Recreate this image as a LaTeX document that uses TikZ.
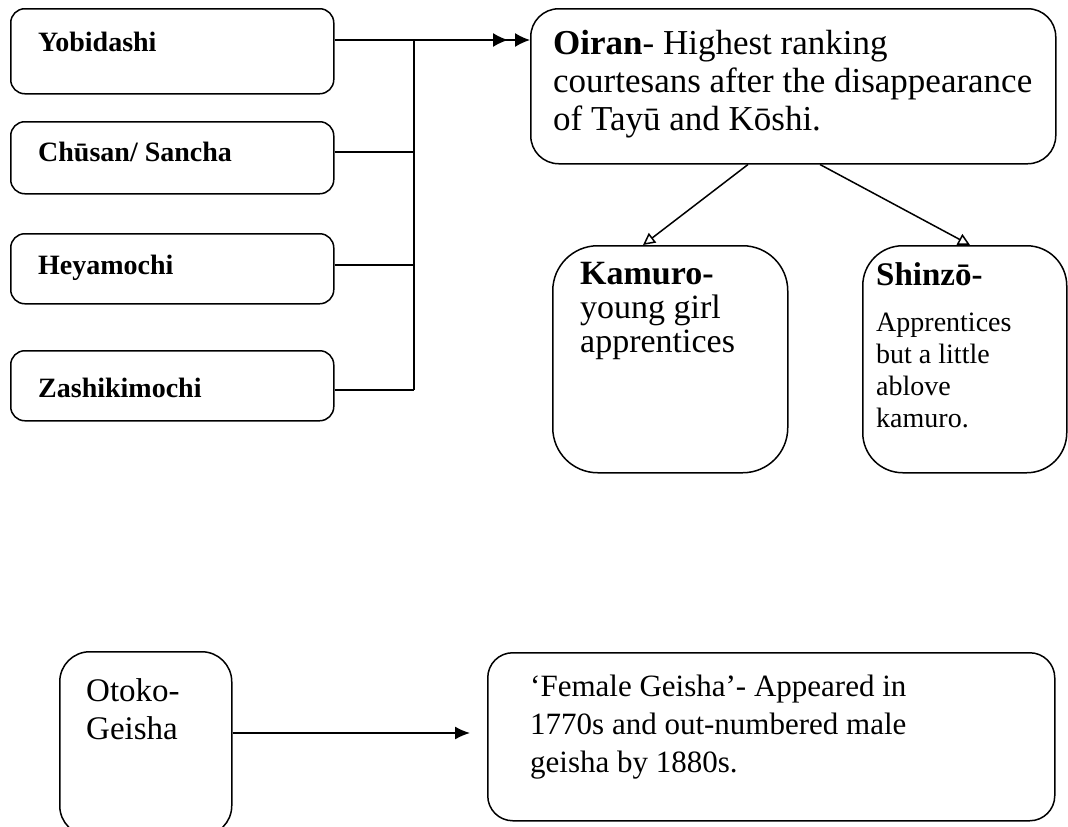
\documentclass[tikz,border=0pt]{standalone}
\usepackage{fontspec}
\setmainfont{Liberation Serif}
\usetikzlibrary{arrows.meta}

\begin{document}
\begin{tikzpicture}[x=1pt,y=-1pt,
    rbox/.style={draw,line width=1.5pt,rounded corners=#1,anchor=north west,inner sep=0pt},
    rbox/.default=14pt,
    lbl/.style={anchor=base west,inner sep=0pt,font=\fontsize{28}{32}\selectfont\bfseries},
    txt/.style={anchor=north west,inner sep=0pt,align=left},
    wire/.style={line width=1.5pt}]
  \useasboundingbox (0,0) rectangle (1068,827);
  % left column
  \node[rbox,minimum width=323pt,minimum height=85pt] (yobi) at (10,8) {};
  \node[rbox,minimum width=323pt,minimum height=72pt] (chusan) at (10,121) {};
  \node[rbox,minimum width=323pt,minimum height=70pt] (heya) at (10,233) {};
  \node[rbox,minimum width=323pt,minimum height=70pt] (zashi) at (10,350) {};
  \node[lbl] (yobi-t) at (38,51) {Yobidashi};
  \node[lbl] (chusan-t) at (38,161) {Chūsan/ Sancha};
  \node[lbl] (heya-t) at (38,274) {Heyamochi};
  \node[lbl] (zashi-t) at (38,397) {Zashikimochi};
  % oiran and the two below
  \node[rbox=28pt,minimum width=525pt,minimum height=155pt] (oiran) at (530,8) {};
  \node[txt,font=\fontsize{35}{38}\selectfont] (oiran-t) at (553,30)
    {\textbf{Oiran}- Highest ranking\\courtesans after the disappearance\\of Tayū and Kōshi.};
  \node[rbox=45pt,minimum width=235pt,minimum height=227pt] (kamuro) at (552,245) {};
  \node[txt,font=\fontsize{34}{34}\selectfont] (kamuro-t) at (580,262)
    {\textbf{Kamuro-}\\young girl\\apprentices};
  \node[rbox=40pt,minimum width=204pt,minimum height=227pt] (shinzo) at (862,245) {};
  \node[txt,font=\fontsize{28}{32}\selectfont] (shinzo-t) at (876,262)
    {{\fontsize{33}{36}\selectfont\textbf{Shinzō-}}\\[14pt]Apprentices\\but a little\\ablove\\kamuro.};
  % joining lines
  \coordinate (jn) at (414,40);
  \draw[wire] (jn) -- (jn |- 0,390);
  \draw[wire] (chusan.east |- 0,152) -- (jn |- 0,152);
  \draw[wire] (heya.east |- 0,265) -- (jn |- 0,265);
  \draw[wire] (zashi.east |- 0,390) -- (jn |- 0,390);
  \draw[wire,-{Latex[length=15pt,width=14pt,sep=7pt]Latex[length=15pt,width=14pt]}]
    (yobi.east |- 0,40) -- (oiran.west |- 0,40);
  \draw[wire,-{Triangle[open,length=12pt,width=12pt]}] (oiran.south -| 748,0) -- (kamuro.north -| 643,0);
  \draw[wire,-{Triangle[open,length=12pt,width=12pt]}] (oiran.south -| 820,0) -- (shinzo.north -| 970,0);
  % geisha
  \node[rbox=30pt,minimum width=172pt,minimum height=184pt] (otoko) at (59,651) {};
  \node[txt,font=\fontsize{33}{38}\selectfont] (otoko-t) at (86,678) {Otoko-\\Geisha};
  \node[rbox=25pt,minimum width=567pt,minimum height=168pt] (female) at (487,652) {};
  \node[txt,font=\fontsize{31}{38}\selectfont] (female-t) at (530,675)
    {‘Female Geisha’- Appeared in\\1770s and out-numbered male\\geisha by 1880s.};
  \draw[wire,-{Latex[length=15pt,width=13pt]},shorten >=17pt] (otoko.east |- 0,733) -- (female.west |- 0,733);
\end{tikzpicture}
\end{document}
